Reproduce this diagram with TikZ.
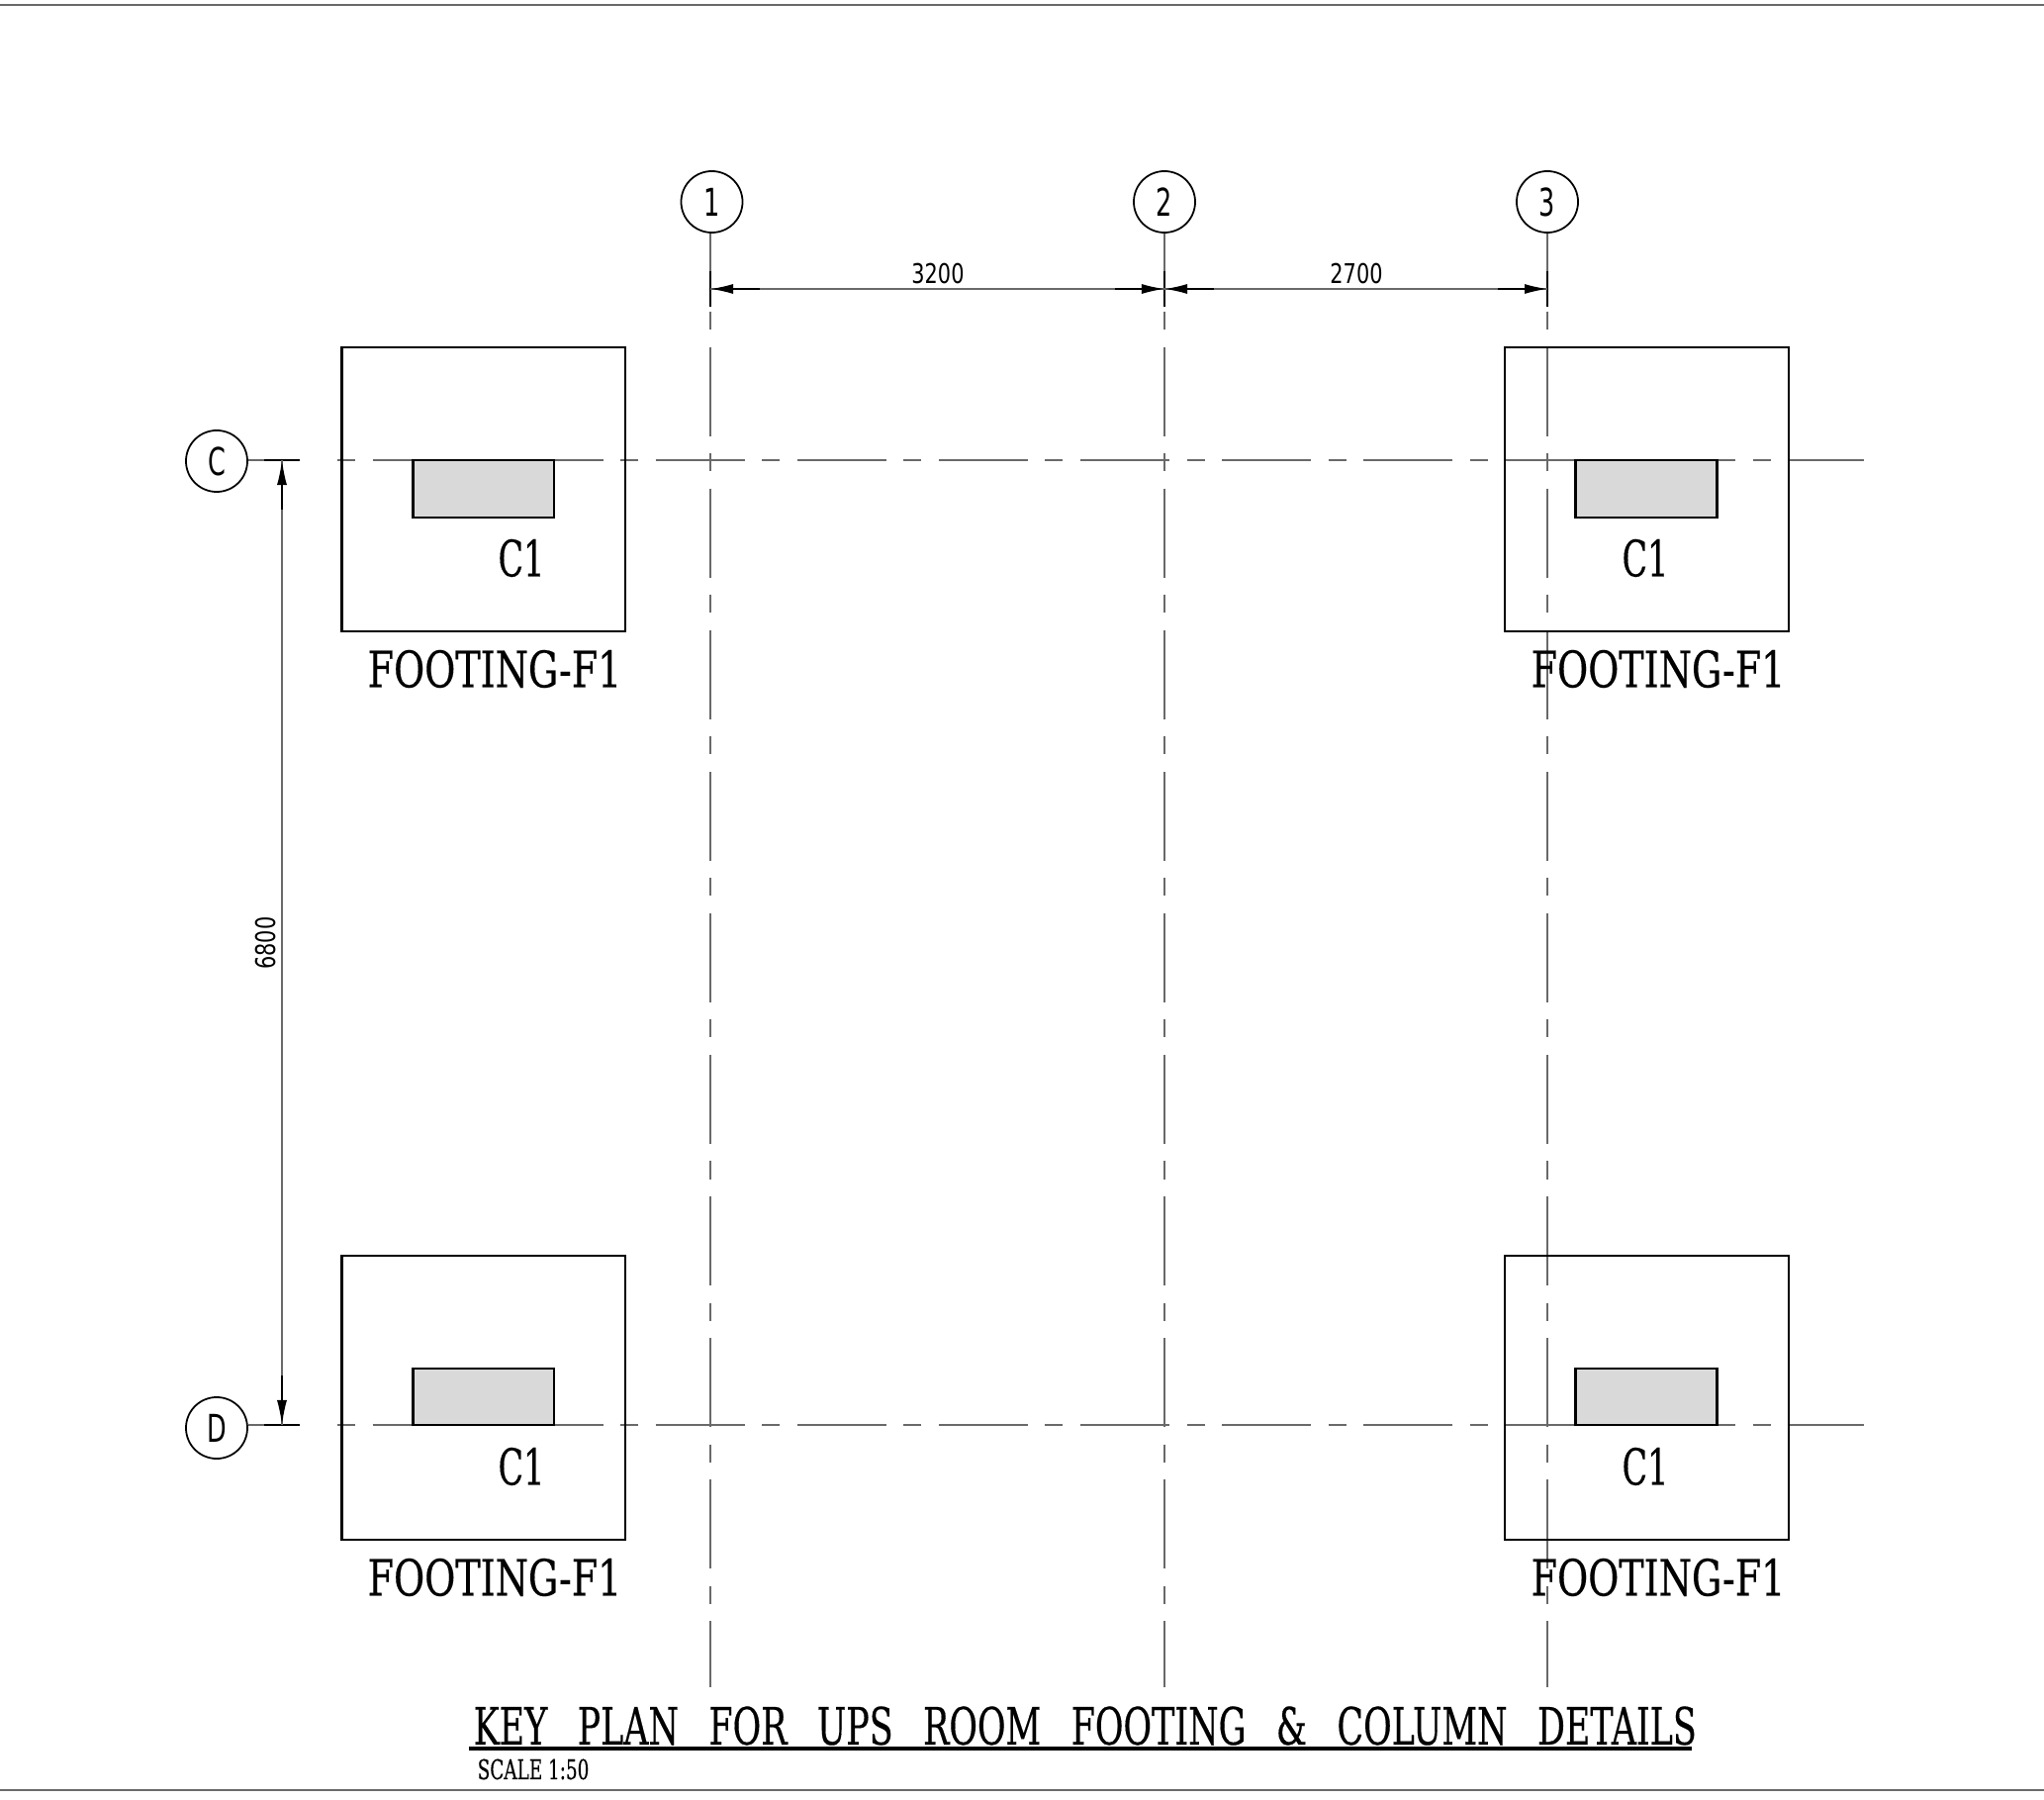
\documentclass[tikz,border=0pt]{standalone}
\usepackage{fontspec}
\usetikzlibrary{arrows.meta}
\newfontfamily\cadserif[FakeStretch=0.75,FakeBold=0.3]{DejaVu Serif}
\newfontfamily\cadcolumn[FakeStretch=0.66,FakeBold=0.3]{DejaVu Serif}
\newfontfamily\cadtitle[FakeStretch=0.67,FakeBold=0.3]{DejaVu Serif}
\newfontfamily\caddim[FakeStretch=0.76]{DejaVu Sans}
\newfontfamily\cadgrid[FakeStretch=0.66]{DejaVu Sans}
\tikzset{
    gridline/.style={draw=linegrey, line width=0.4pt},
    centerline/.style={gridline, dash pattern=on 0.18cm off 0.175cm on 0.9cm off 0.175cm},
    tick/.style={draw=black, line width=0.45pt},
    outline/.style={draw=black, line width=0.6pt},
    bubble/.style={circle, draw=black, line width=0.5pt, minimum size=0.62cm, inner sep=0pt, font=\cadgrid\fontsize{11}{11}\selectfont},
    dimtext/.style={font=\caddim\fontsize{7.8}{8}\selectfont, inner sep=0pt},
    tagtext/.style={font=\cadserif\fontsize{14.4}{15}\selectfont, inner sep=0pt},
    columntext/.style={font=\cadcolumn\fontsize{14.4}{15}\selectfont, inner sep=0pt}
}
\begin{document}
\begin{tikzpicture}[x=0.01cm,y=-0.01cm]
    % Define colors
    \definecolor{linegrey}{RGB}{105, 105, 105}
    \definecolor{columngrey}{RGB}{217, 217, 217}

    \useasboundingbox (0,0) rectangle (2066,1819);
    \draw[gridline] (0,5) -- (2066,5);
    \draw[gridline] (0,1809) -- (2066,1809);

    % Grid bubbles
    \node[bubble] (g1) at (719.5,204) {1};
    \node[bubble] (g2) at (1177,204) {2};
    \node[bubble] (g3) at (1564,204) {3};
    \node[bubble] (gc) at (219,466) {C};
    \node[bubble] (gd) at (219,1443) {D};

    % Grid lines
    \coordinate (t1) at (718,310);
    \coordinate (t2) at (1177,310);
    \coordinate (t3) at (1564,310);
    \coordinate (e1) at (718,1705);
    \coordinate (e2) at (1177,1705);
    \coordinate (e3) at (1564,1705);
    \draw[gridline] (g1.south -| t1) -- (t1);
    \draw[gridline] (g2) -- (t2);
    \draw[gridline] (g3) -- (t3);
    \draw[centerline] (718,315) -- (e1);
    \draw[centerline] (1177,315) -- (e2);
    \draw[centerline] (1564,315) -- (e3);

    \coordinate (lc) at (303,465);
    \coordinate (ld) at (303,1440);
    \draw[gridline] (gc.east |- lc) -- (lc);
    \draw[gridline] (gd.east |- ld) -- (ld);
    \draw[centerline] (341,465) -- (1884,465);
    \draw[centerline] (341,1440) -- (1884,1440);

    % Footings
    \begin{scope}
        \draw[outline] (345.5,351) rectangle (632,638);
        \draw[outline, fill=columngrey] (417.5,465) rectangle (560,523);
        \node[columntext] (c1a) at (527,564) {C1};
        \node[tagtext] (f1a) at (500,676) {FOOTING-F1};
    \end{scope}

    \begin{scope}[shift={(1176,0)}]
        \draw[outline] (345,351) rectangle (632,638);
        \draw[outline, fill=columngrey] (416.5,465) rectangle (559.5,523);
        \node[columntext] (c1b) at (487,564) {C1};
        \node[tagtext] (f1b) at (500,676) {FOOTING-F1};
    \end{scope}

    \begin{scope}[shift={(0,918)}]
        \draw[outline] (345.5,351) rectangle (632,638);
        \draw[outline, fill=columngrey] (417.5,465) rectangle (560,522);
        \node[columntext] (c1c) at (527,564) {C1};
        \node[tagtext] (f1c) at (500,676) {FOOTING-F1};
    \end{scope}

    \begin{scope}[shift={(1176,918)}]
        \draw[outline] (345,351) rectangle (632,638);
        \draw[outline, fill=columngrey] (416.5,465) rectangle (559.5,522);
        \node[columntext] (c1d) at (487,564) {C1};
        \node[tagtext] (f1d) at (500,676) {FOOTING-F1};
    \end{scope}

    % Dimensions
    \draw[tick] (718,274) -- (t1);
    \draw[tick] (1177,274) -- (t2);
    \draw[tick] (1564,274) -- (t3);
    \draw[tick] (267,465) -- (lc);
    \draw[tick] (267,1440) -- (ld);

    \coordinate (d1) at (718,292);
    \coordinate (d2) at (1177,292);
    \coordinate (d3) at (1564,292);
    \coordinate (dc) at (285,465);
    \coordinate (dd) at (285,1440);
    \draw[gridline] (d1) -- (d2);
    \draw[gridline] (d2) -- (d3);
    \draw[gridline] (dc) -- (dd);
    \draw[tick, {Latex[length=0.23cm,width=0.1cm]}-] (d1) -- +(50,0);
    \draw[tick, {Latex[length=0.23cm,width=0.1cm]}-] (d2) -- +(-50,0);
    \draw[tick, {Latex[length=0.23cm,width=0.1cm]}-] (d2) -- +(50,0);
    \draw[tick, {Latex[length=0.23cm,width=0.1cm]}-] (d3) -- +(-50,0);
    \draw[tick, {Latex[length=0.25cm,width=0.1cm]}-] (dc) -- +(0,50);
    \draw[tick, {Latex[length=0.25cm,width=0.1cm]}-] (dd) -- +(0,-50);

    \node[dimtext] (l3200) at (948,277) {3200};
    \node[dimtext] (l2700) at (1371,277) {2700};
    \node[dimtext, rotate=90] (l6800) at (269,953) {6800};

    % Title
    \node[tagtext, anchor=west, font={\cadtitle\fontsize{14.8}{15}\selectfont\spaceskip=0.585em\relax}] (title) at (478,1744) {KEY PLAN FOR UPS ROOM FOOTING \& COLUMN DETAILS};
    \node[dimtext, anchor=west, font=\cadtitle\fontsize{7.8}{8}\selectfont] (scale) at (482,1788) {SCALE 1:50};
    \draw[black, line width=0.9pt] (474,1767) -- (1710,1767);
\end{tikzpicture}
\end{document}
